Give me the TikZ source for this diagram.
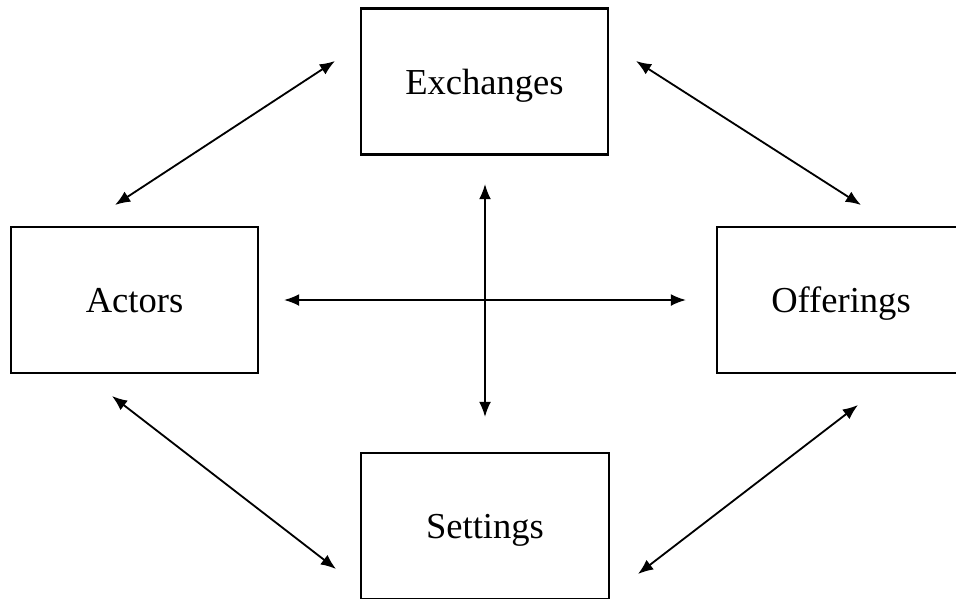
\documentclass[tikz,border=0pt]{standalone}
\usepackage{fontspec}
\setmainfont{Liberation Serif}
\usetikzlibrary{arrows.meta}

\tikzset{
	box/.style={draw, black, line width=1.6pt, minimum width=6.18cm, minimum height=3.65cm, inner sep=0pt, text depth=0pt, font=\fontsize{26}{31}\selectfont},
	link/.style={{Latex[length=0.38cm, width=0.3cm]}-{Latex[length=0.38cm, width=0.3cm]}, black, line width=1.3pt}
}

\begin{document}
\begin{tikzpicture}[x=0.025cm, y=-0.025cm]
		\useasboundingbox (0, 0) rectangle (956, 599);
		\clip (0, 0) rectangle (956, 599);

		\node[box] (exchanges)	at (484.5, 81.5) {Exchanges};
		\node[box] (actors)		at (134.5, 300) {Actors};
		\node[box] (offerings)	at (841, 300) {Offerings};
		\node[box] (settings)	at (485, 526) {Settings};

		% free ends of the links
		\coordinate (ae1) at (115, 205);
		\coordinate (ae2) at (335, 61);
		\coordinate (eo1) at (636, 61);
		\coordinate (eo2) at (861, 205);
		\coordinate (as1) at (112, 396);
		\coordinate (as2) at (336, 569);
		\coordinate (so1) at (638, 574);
		\coordinate (so2) at (858, 405);
		\coordinate (h1) at (284, 300);
		\coordinate (h2) at (686, 300);
		\coordinate (v1) at (485, 184);
		\coordinate (v2) at (485, 417);

		\draw[link]	(ae1) to (ae2);
		\draw[link]	(eo1) to (eo2);
		\draw[link]	(as1) to (as2);
		\draw[link]	(so1) to (so2);
		\draw[link]	(h1) to (h2);
		\draw[link]	(v1) to (v2);
	\end{tikzpicture}
\end{document}
